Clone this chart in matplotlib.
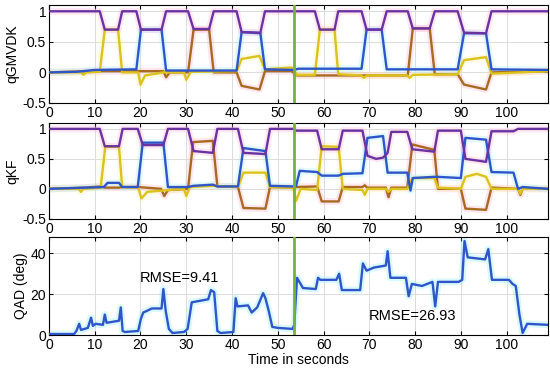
import matplotlib.pyplot as plt

# marker da troca de condição
t_switch = 53.6

# ---- painel 1: qGMVDK  (tempo, valor)
gm_purple = [(0, 1), (11.1, 1), (12.2, 0.7), (15.1, 0.7), (16.0, 1), (19.1, 1), (20.1, 0.7), (24.6, 0.7),
             (25.6, 1), (30.4, 1), (31.6, 0.71), (35.0, 0.71), (36.0, 1), (41.0, 1), (42.1, 0.66), (46.2, 0.65),
             (47.2, 1), (58.1, 1), (59.2, 0.7), (62.4, 0.7), (63.2, 1), (68.3, 1), (69.4, 0.7), (72.7, 0.7),
             (73.8, 1), (78.4, 1), (79.5, 0.72), (83.2, 0.72), (84.3, 1), (89.3, 1), (90.7, 0.65), (95.5, 0.64),
             (96.7, 1), (109, 1)]
gm_blue = [(0, 0), (6, 0.01), (10, 0.04), (19.1, 0.05), (20.1, 0.7), (24.6, 0.7), (25.6, 0.03), (41.0, 0.03),
           (42.1, 0.66), (46.2, 0.64), (47.2, 0.05), (53.4, 0.04), (54.5, 0.06), (68.3, 0.06), (69.4, 0.7),
           (72.7, 0.7), (73.8, 0.05), (89.3, 0.05), (90.7, 0.64), (95.5, 0.64), (96.7, 0.05), (109, 0.04)]
gm_yellow = [(0, 0), (7.0, 0), (7.5, -0.04), (8.2, 0), (11.1, 0.01), (12.2, 0.7), (15.1, 0.7), (16.0, 0.0),
             (19.5, 0.0), (20.0, -0.2), (21.0, -0.05), (25.0, 0), (29.5, 0), (30.0, -0.12), (31.0, 0.01),
             (41.0, 0.02), (42.1, 0.22), (46.0, 0.27), (47.2, 0.05), (53.0, 0.08), (54.2, -0.04), (58.1, -0.04),
             (59.2, 0.7), (62.4, 0.7), (63.2, -0.03), (68.3, -0.05), (68.8, -0.09), (69.5, -0.05), (78.3, -0.05),
             (78.8, -0.09), (79.5, -0.04), (89.3, -0.03), (90.7, 0.2), (95.5, 0.25), (96.7, -0.02), (109, 0.02)]
gm_orange = [(0, 0), (9, 0.02), (25.0, 0.02), (25.6, -0.08), (26.4, 0.0), (30.4, 0.0), (31.6, 0.7), (35.0, 0.7),
             (36.0, 0.0), (41.0, 0.0), (42.1, -0.22), (46.0, -0.28), (47.2, 0.02), (53.0, 0.02), (54.2, -0.05),
             (78.4, -0.05), (79.5, 0.72), (83.2, 0.72), (84.3, -0.03), (89.3, -0.03), (90.7, -0.2), (95.5, -0.28),
             (96.7, 0.0), (109, 0.02)]

# ---- painel 2: qKF
kf_purple = [(0, 1), (11.1, 1), (12.2, 0.71), (15.3, 0.71), (16.1, 1), (19.4, 1), (20.5, 0.73), (25.0, 0.73),
             (26.0, 1), (30.4, 1), (31.6, 0.63), (35.8, 0.6), (36.8, 1), (41.3, 1), (42.5, 0.6), (47.3, 0.58),
             (48.3, 1), (53.6, 1), (54.0, 0.97), (58.6, 0.97), (59.6, 0.66), (63.3, 0.66), (64.2, 0.97),
             (68.5, 0.97), (69.6, 0.55), (71.5, 0.5), (73.0, 0.52), (74.0, 0.6), (74.8, 0.95), (78.3, 0.95),
             (79.4, 0.66), (84.2, 0.62), (85.0, 0.97), (90.0, 0.97), (91.0, 0.5), (95.5, 0.45), (96.7, 0.96),
             (101.5, 0.96), (102.5, 1), (109, 1)]
kf_blue = [(0, 0), (8, 0.02), (12.0, 0.03), (12.8, 0.1), (15.3, 0.1), (16.0, 0.03), (19.4, 0.03), (20.5, 0.77),
           (25.0, 0.77), (26.0, 0.03), (30.4, 0.03), (31.5, 0.05), (35.8, 0.07), (36.8, 0.04), (41.3, 0.04),
           (42.5, 0.68), (47.3, 0.63), (48.3, 0.05), (53.4, 0.04), (54.0, 0.05), (54.8, 0.3), (58.6, 0.28),
           (59.6, 0.22), (63.3, 0.22), (64.2, 0.25), (68.5, 0.26), (69.6, 0.85), (73.0, 0.88), (74.0, 0.27),
           (78.3, 0.27), (79.0, -0.03), (79.5, 0.18), (84.2, 0.2), (85.0, 0.2), (90.0, 0.18), (91.0, 0.85),
           (95.5, 0.82), (96.7, 0.28), (101.5, 0.27), (102.5, 0.0), (103.5, 0.03), (109, 0.0)]
kf_yellow = [(0, 0), (6.5, 0), (7.0, -0.05), (7.5, 0), (11.3, 0.02), (12.3, 0.7), (15.3, 0.7), (16.0, 0.03),
             (19.5, 0.02), (20.2, -0.16), (21.5, -0.05), (29.5, 0), (30.0, -0.12), (30.8, 0.03), (36.0, 0.05),
             (41.3, 0.03), (42.5, 0.27), (47.3, 0.27), (48.3, 0.03), (53.4, 0.02), (54.0, -0.2), (55.0, 0.0),
             (58.6, -0.02), (59.6, 0.71), (63.3, 0.7), (64.2, 0.0), (68.5, -0.02), (69.0, -0.1), (69.6, 0.0),
             (73.6, 0.0), (74.2, -0.05), (74.8, 0.0), (78.3, 0.0), (79.4, 0.18), (84.2, 0.18), (85.0, 0.02),
             (90.0, 0.0), (91.0, 0.2), (93.5, 0.25), (95.5, 0.2), (96.7, 0.0), (102.5, 0.0), (103.0, -0.08),
             (103.5, 0.0), (109, 0.0)]
kf_orange = [(0, 0), (8, 0.02), (11.3, 0.04), (12.3, 0.02), (15.3, 0.02), (16.0, 0.03), (19.5, 0.03),
             (24.5, 0.0), (25.2, -0.12), (26.0, -0.02), (30.4, 0.0), (31.5, 0.78), (35.8, 0.8), (36.8, 0.04),
             (41.3, 0.03), (42.5, -0.32), (47.3, -0.33), (48.3, 0.03), (53.4, 0.02), (54.0, 0.03), (58.6, 0.04),
             (59.6, -0.21), (63.3, -0.21), (64.2, 0.03), (68.5, 0.03), (69.0, 0.06), (69.5, 0.02), (73.6, 0.02),
             (74.2, -0.14), (74.8, 0.02), (78.3, 0.02), (79.4, 0.74), (84.2, 0.65), (85.0, 0.0), (90.0, 0.0),
             (91.0, -0.33), (95.5, -0.35), (96.7, 0.02), (102.5, 0.0), (103.0, -0.1), (103.5, 0.0), (109, 0.0)]

# ---- painel 3: QAD (graus)
qad = [(0, 0.5), (5.5, 0.5), (6.0, 2), (6.6, 5.5), (7.0, 2.5), (8.5, 3.5), (9.2, 8.5), (9.6, 4.5), (10.2, 5.5),
       (11.8, 5), (12.2, 10), (12.6, 6), (15.3, 7), (15.7, 13.5), (16.1, 2), (16.6, 1.5), (19.5, 2), (20.1, 8),
       (20.6, 11), (22.5, 13), (24.6, 13), (25.0, 22.5), (25.5, 12), (26.2, 3), (27.0, 1), (29.5, 1.5),
       (30.3, 3), (31.2, 16), (34.8, 17.5), (35.4, 22), (36.1, 21), (36.8, 2), (37.5, 1), (40.3, 1.5),
       (40.8, 18), (41.2, 14), (43.5, 14.5), (44.3, 11), (45.5, 13.5), (46.8, 20.5), (47.3, 18), (48.0, 12),
       (48.8, 4), (50.0, 3.5), (53.2, 3), (53.6, 5), (54.2, 28), (55.5, 23), (58.3, 22.5), (58.8, 28),
       (59.3, 27), (62.8, 27), (63.4, 30), (64.0, 22), (68.0, 22), (68.6, 35), (69.4, 31.5), (71.0, 33),
       (73.6, 34), (74.0, 41), (74.6, 28), (78.0, 28), (78.6, 19), (79.3, 25), (81.5, 24), (83.8, 26),
       (84.4, 14), (85.0, 26), (89.5, 26), (90.3, 27), (90.8, 46), (91.5, 38), (95.3, 37), (96.0, 42),
       (96.8, 27), (100.5, 27), (101.3, 25), (102.0, 24), (102.8, 10), (103.5, 1), (104.5, 5.5), (109, 5)]

rmse_textos = ["RMSE=9.41", "RMSE=26.93"]
rmse_pos = [(28.5, 28), (79.5, 9.5)]

# cores (tons meio "lavados" como no original)
c_purple = '#6a34a0'
c_blue = '#2f55c8'
c_orange = '#a86a22'
c_yellow = '#dcc21e'
c_green = '#78b040'

plt.rcParams['font.family'] = ['Liberation Sans', 'DejaVu Sans']
plt.rcParams['font.size'] = 10

fig = plt.figure(figsize=(5.5, 3.69), dpi=100)
ax1 = fig.add_axes([0.089, 0.721, 0.907, 0.265])
ax2 = fig.add_axes([0.089, 0.407, 0.907, 0.260])
ax3 = fig.add_axes([0.089, 0.092, 0.907, 0.266])


def desenha(ax, serie, cor, fundo):
    t, v = zip(*serie)
    ax.plot(t, v, color=fundo, lw=5, alpha=0.3, solid_joinstyle='round', zorder=1)
    ax.plot(t, v, color=cor, lw=1.7, solid_joinstyle='round', zorder=3)


for ax, series in [(ax1, [gm_orange, gm_yellow, gm_blue, gm_purple]),
                   (ax2, [kf_orange, kf_yellow, kf_blue, kf_purple])]:
    desenha(ax, series[0], c_orange, '#ffb0c8')
    desenha(ax, series[1], c_yellow, '#fff0a0')
    desenha(ax, series[2], c_blue, '#a0f0ff')
    desenha(ax, series[3], c_purple, '#ffb0e0')
    ax.set_ylim(-0.5, 1.1)
    ax.set_yticks([-0.5, 0, 0.5, 1])
    ax.set_yticklabels(['-0.5', '0', '0.5', '1'])

ax1.set_ylabel('qGMVDK', labelpad=2)
ax2.set_ylabel('qKF', labelpad=2)

desenha(ax3, qad, c_blue, '#80ecff')
ax3.set_ylim(0, 48)
ax3.set_yticks([0, 20, 40])
ax3.set_ylabel('QAD (deg)', labelpad=2)
ax3.set_xlabel('Time in seconds', labelpad=1)
for txt, (x, y) in zip(rmse_textos, rmse_pos):
    ax3.text(x, y, txt, ha='center', va='center', fontsize=10.5)

for ax in [ax1, ax2, ax3]:
    ax.axvline(t_switch, color=c_green, lw=2, zorder=4)
    ax.set_xlim(0, 109)
    ax.set_xticks(range(0, 101, 10))
    ax.grid(True, color='#dcdcdc', lw=0.7)
    ax.set_axisbelow(True)
    ax.tick_params(direction='in', length=3, top=True, right=True, pad=2)
    for s in ax.spines.values():
        s.set_linewidth(0.8)

fig.savefig('out.png', dpi=100)
